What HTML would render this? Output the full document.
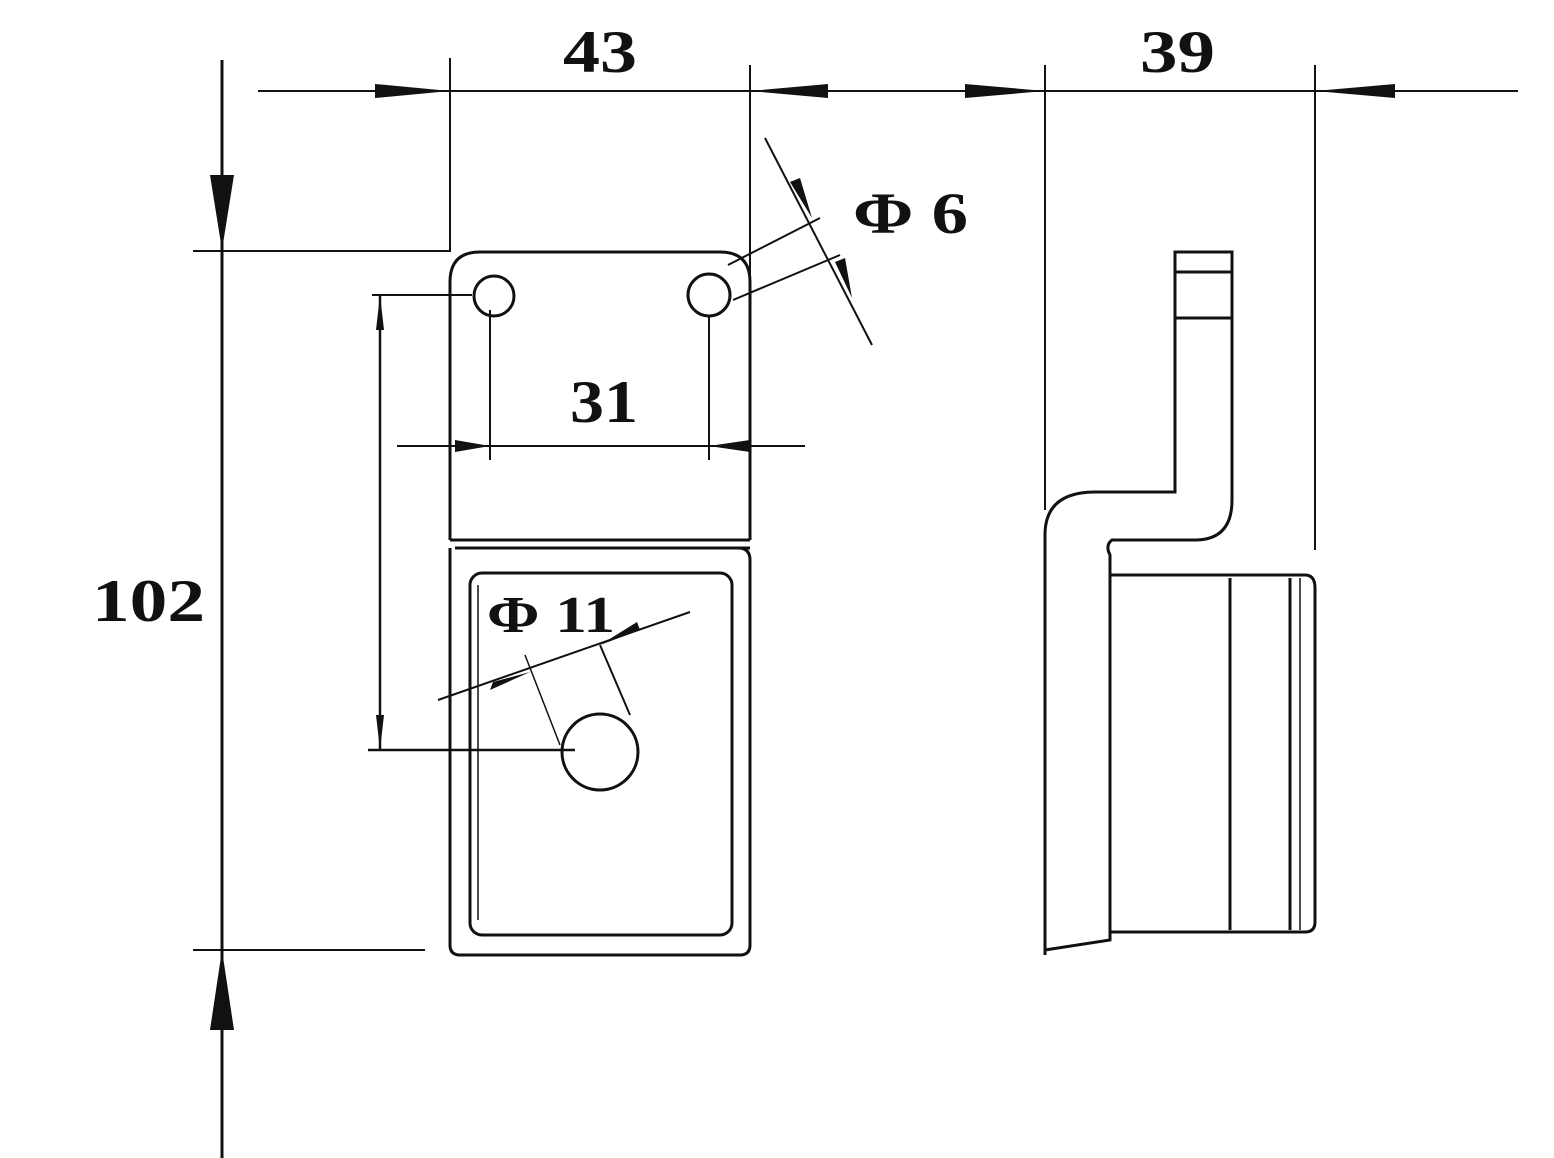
<!DOCTYPE html>
<html><head><meta charset="utf-8"><style>
html,body{margin:0;padding:0;background:#fff;}
svg{display:block;}
text{font-family:"Liberation Serif",serif;font-weight:bold;fill:#111;}
</style></head><body>
<svg width="1554" height="1158" viewBox="0 0 1554 1158" xmlns="http://www.w3.org/2000/svg">
<g stroke="#111" fill="none" stroke-width="2">
<line x1="258" y1="91" x2="1518" y2="91"/>
<line x1="450" y1="58" x2="450" y2="252"/>
<line x1="750" y1="65" x2="750" y2="540"/>
<line x1="1045" y1="65" x2="1045" y2="510"/>
<line x1="1315" y1="65" x2="1315" y2="550"/>
<line x1="222" y1="60" x2="222" y2="1158" stroke-width="3"/>
<line x1="193" y1="251" x2="450" y2="251"/>
<line x1="193" y1="950" x2="425" y2="950"/>
<path d="M450,540 V282 Q450,252 480,252 H720 Q750,252 750,282 V540" stroke-width="3"/>
<line x1="450" y1="540" x2="750" y2="540" stroke-width="3"/>
<line x1="455" y1="548" x2="750" y2="548" stroke-width="3"/>
<path d="M455,548 H738 Q750,548 750,560 V945 Q750,955 740,955 H460 Q450,955 450,945 V548" stroke-width="3"/>
<rect x="470" y="573" width="262" height="362" rx="12" stroke-width="3"/>
<line x1="478" y1="585" x2="478" y2="920" stroke-width="1.5"/>
<circle cx="494" cy="296" r="20" stroke-width="3"/>
<circle cx="709" cy="295" r="21" stroke-width="3"/>
<circle cx="600" cy="752" r="38" stroke-width="3"/>
<line x1="397" y1="446" x2="805" y2="446"/>
<line x1="490" y1="310" x2="490" y2="460"/>
<line x1="709" y1="315" x2="709" y2="460"/>
<line x1="380" y1="295" x2="380" y2="750" stroke-width="2.5"/>
<line x1="372" y1="295" x2="472" y2="295"/>
<line x1="368" y1="750" x2="575" y2="750" stroke-width="2.5"/>
<line x1="765" y1="138" x2="872" y2="345"/>
<line x1="728" y1="265" x2="820" y2="218"/>
<line x1="733" y1="300" x2="840" y2="255"/>
<line x1="438" y1="700" x2="690" y2="612"/>
<line x1="525" y1="655" x2="560" y2="745" stroke-width="1.5"/>
<line x1="600" y1="645" x2="630" y2="715"/>
<path d="M1045,955 V535 Q1045,492 1095,492 H1175 V252 H1232 V500 Q1232,540 1195,540 H1112 Q1105,545 1110,555 V940 L1045,950" stroke-width="3"/>
<line x1="1175" y1="272" x2="1232" y2="272" stroke-width="3"/>
<line x1="1175" y1="318" x2="1232" y2="318" stroke-width="3"/>
<path d="M1110,575 H1305 Q1315,575 1315,588 V922 Q1315,932 1305,932 H1110" stroke-width="3"/>
<line x1="1230" y1="578" x2="1230" y2="930" stroke-width="3"/>
<line x1="1290" y1="578" x2="1290" y2="930" stroke-width="3"/>
<line x1="1300" y1="578" x2="1300" y2="930" stroke-width="1.5"/>
</g>
<g fill="#111">
<polygon points="375,84 450,91 375,98"/>
<polygon points="828,84 750,91 828,98"/>
<polygon points="965,84 1045,91 965,98"/>
<polygon points="1395,84 1315,91 1395,98"/>
<polygon points="210,175 222,250 234,175"/>
<polygon points="210,1030 222,950 234,1030"/>
<polygon points="455,440 490,446 455,452"/>
<polygon points="750,440 709,446 750,452"/>
<polygon points="376,330 380,295 384,330"/>
<polygon points="376,715 380,750 384,715"/>
<polygon points="790,182 812,218 800,178"/>
<polygon points="835,262 852,298 845,258"/>
<polygon points="490,690 530,672 493,682"/>
<polygon points="640,630 600,645 637,622"/>
</g>
<text x="563" y="72" font-size="60" textLength="74" lengthAdjust="spacingAndGlyphs">43</text>
<text x="1140" y="72" font-size="60" textLength="75" lengthAdjust="spacingAndGlyphs">39</text>
<text x="92" y="621" font-size="60" textLength="113" lengthAdjust="spacingAndGlyphs">102</text>
<text x="570" y="422" font-size="60" textLength="68" lengthAdjust="spacingAndGlyphs">31</text>
<text x="853" y="233" font-size="58" textLength="115" lengthAdjust="spacingAndGlyphs">Φ 6</text>
<text x="487" y="632" font-size="52" textLength="128" lengthAdjust="spacingAndGlyphs">Φ 11</text>
</svg>
</body></html>
